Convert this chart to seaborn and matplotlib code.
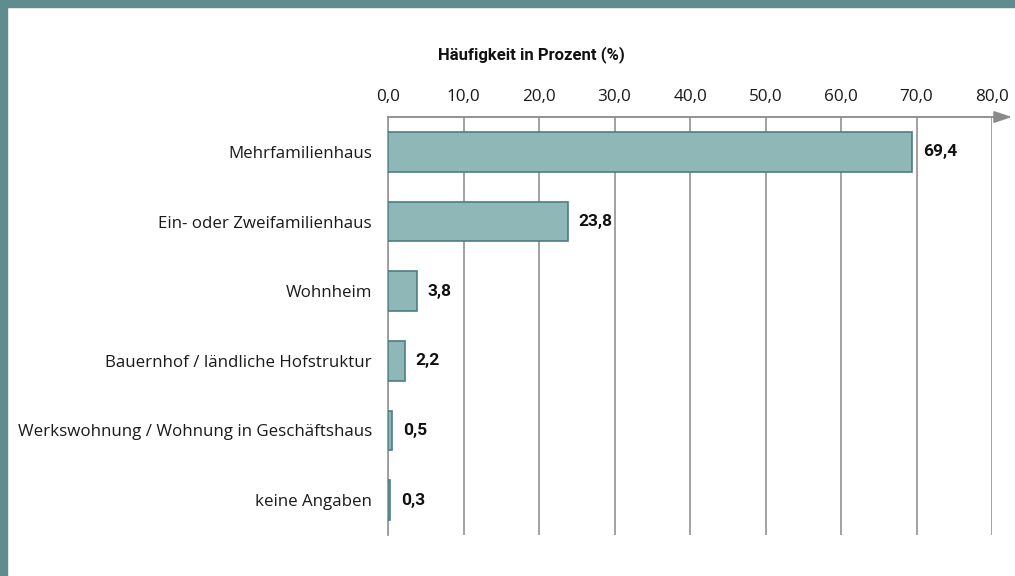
import matplotlib
matplotlib.use("Agg")
import matplotlib.pyplot as plt
import seaborn as sns
import pandas as pd

categories = ["Mehrfamilienhaus", "Ein- oder Zweifamilienhaus", "Wohnheim",
              "Bauernhof / ländliche Hofstruktur",
              "Werkswohnung / Wohnung in Geschäftshaus", "keine Angaben"]
values = [69.4, 23.8, 3.8, 2.2, 0.5, 0.3]
xticks = [0, 10, 20, 30, 40, 50, 60, 70, 80]
xtick_labels = ["0,0", "10,0", "20,0", "30,0", "40,0", "50,0", "60,0", "70,0", "80,0"]
value_labels = ["69,4", "23,8", "3,8", "2,2", "0,5", "0,3"]
title = "Häufigkeit in Prozent (%)"

df = pd.DataFrame({"cat": categories, "val": values})

sns.set_theme(style="white")
plt.rcParams['font.family'] = ['Open Sans', 'DejaVu Sans']
bold_family = ["Roboto", "DejaVu Sans"]

fig = plt.figure(figsize=(10.15, 5.76), dpi=100)
ax = fig.add_axes([388/1015, 1-535/576, (992-388)/1015, (535-117)/576])

sns.barplot(data=df, x="val", y="cat", orient="h", ax=ax, color="#8FB7B8",
            edgecolor="#4E7E80", linewidth=1.2, width=0.565, saturation=1, zorder=3)

ax.set_xlim(0, 80)
ax.set_ylim(5.5, -0.5)
ax.set_xticks(xticks)
ax.set_xticklabels(xtick_labels, fontsize=12.3, color="#1a1a1a")
ax.xaxis.tick_top()
ax.tick_params(axis="x", length=0, pad=8.5)
ax.tick_params(axis="y", length=0, pad=11.5, labelsize=12.2, labelcolor="#1a1a1a")
ax.set_xlabel("")
ax.set_ylabel("")
ax.grid(axis="x", color="#9A9A9A", linewidth=1.3, zorder=0)
ax.grid(axis="y", visible=False)
for s in ["top", "right", "bottom"]:
    ax.spines[s].set_visible(False)
ax.spines["left"].set_color("#9A9A9A")
ax.spines["left"].set_linewidth(1.3)

# top axis line with arrow
ax.annotate("", xy=(1 + 20/604, 1), xytext=(0, 1), xycoords="axes fraction",
            textcoords="axes fraction",
            arrowprops=dict(arrowstyle="-|>,head_length=0.9,head_width=0.3",
                            color="#8A8A8A", lw=1.3, shrinkA=0, shrinkB=0),
            annotation_clip=False)

for i, (v, lab) in enumerate(zip(values, value_labels)):
    ax.annotate(lab, xy=(v, i), xytext=(8, 0), textcoords="offset points",
                va="center", ha="left", fontsize=12.5,
                fontweight="bold", color="#111111", family=bold_family)

fig.text(531/1015, 1-55/576, title, ha="center", va="center", fontsize=12,
         fontweight="bold", color="#111111", family=bold_family)

# frame bands
frame_color = "#5F8C8E"
fig.patches.append(plt.Rectangle((0, 1-7/576), 1, 7/576, transform=fig.transFigure,
                                 color=frame_color, zorder=0))
fig.patches.append(plt.Rectangle((0, 0), 7/1015, 1, transform=fig.transFigure,
                                 color=frame_color, zorder=0))

fig.savefig("out.png", dpi=100)
